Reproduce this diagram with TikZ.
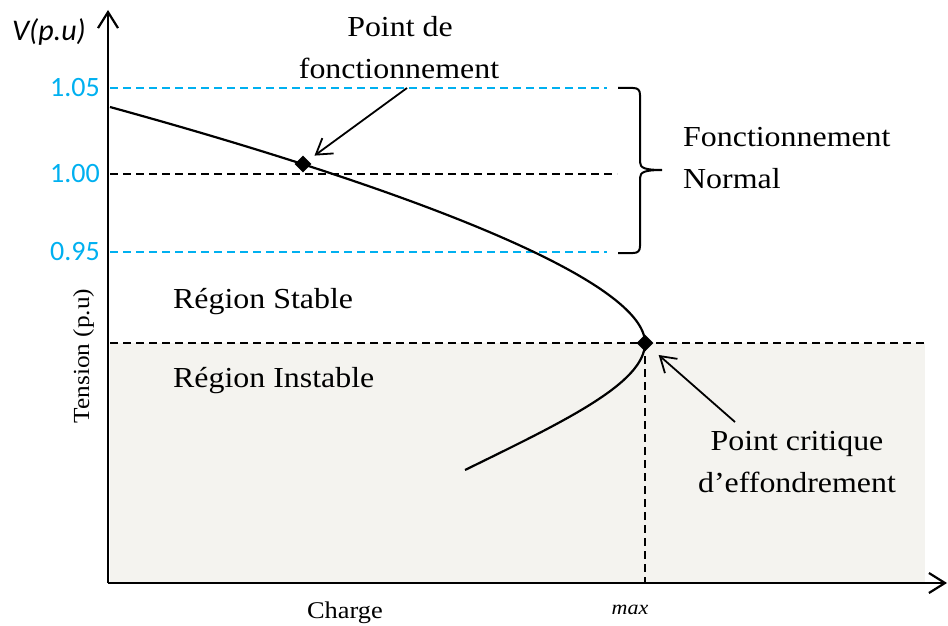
\documentclass[tikz,border=0pt]{standalone}
\usepackage{fontspec}
\setmainfont{Liberation Serif}[FakeStretch=1.1]
\newfontfamily\ticksans{Carlito}
\usetikzlibrary{arrows.meta,shapes.geometric}
\definecolor{tickblue}{RGB}{0,176,240}
\definecolor{unstablefill}{RGB}{244,243,239}

\begin{document}
\begin{tikzpicture}[x=1pt,y=-1pt,
  axis/.style={line width=2.2pt,-{Straight Barb[length=16pt,width=20pt,line width=2.2pt]}},
  curve/.style={line width=2.2pt},
  guide/.style={line width=1.9pt,dash pattern=on 8pt off 5pt},
  callout/.style={line width=1.8pt,-{Straight Barb[length=15pt,width=19pt,line width=1.8pt]}},
  marker/.style={diamond,fill=black,minimum size=17pt,inner sep=0pt},
  lbl/.style={inner sep=0pt,font=\fontsize{29}{35}\selectfont},
  ticklbl/.style={inner sep=0pt,text=tickblue,font=\ticksans\fontsize{28}{32}\selectfont},
]
\useasboundingbox (0,0) rectangle (948,626);

% unstable region
\fill[unstablefill] (110,343) rectangle (925,583);

% reference voltage levels
\draw[guide,tickblue] (110,88) -- (607,88);
\draw[guide] (110,174) -- (617,174);
\draw[guide,tickblue] (110,252) -- (607,252);

% stability limit
\draw[guide] (110,343) -- (928,343);
\draw[guide] (645,343) -- (645,583);

% axes
\coordinate (O) at (108,583);
\coordinate (xend) at (947,583);
\coordinate (yend) at (108,10);
\draw[axis] (O) -- (xend);
\draw[axis] (O) -- (yend);

% P-V curve
\draw[curve] (110,107) .. controls (430,195) and (645,283) .. (645,343)
  .. controls (645,383) and (565,421) .. (465,470);

% brace for the normal band
\draw[line width=2pt] (618,88) -- (633,88) .. controls (638,88) and (640,90) .. (640,95)
  -- (640,162) .. controls (640,168) and (645,170) .. (662,170)
  .. controls (645,170) and (640,172) .. (640,178)
  -- (640,246) .. controls (640,251) and (638,253) .. (633,253) -- (618,253);

% operating and critical points
\node[marker] (op) at (303,164) {};
\node[marker] (cp) at (645,343) {};

% axis labels
\node[inner sep=0pt,anchor=base west,font=\ticksans\itshape\fontsize{30}{34}\selectfont] (vlab) at (12,41) {V(p.u)};
\node[ticklbl,anchor=east] (t105) at (100,88) {1.05};
\node[ticklbl,anchor=east] (t100) at (100,174) {1.00};
\node[ticklbl,anchor=east] (t095) at (100,252) {0.95};
\node[inner sep=0pt,rotate=90,anchor=base,font=\fontsize{23}{27}\selectfont] (ylab) at (89,356) {Tension (p.u)};
\node[inner sep=0pt,anchor=base,font=\fontsize{24}{28}\selectfont] (xlab) at (345,618) {Charge};
\node[inner sep=0pt,anchor=base,font=\itshape\fontsize{20}{24}\selectfont] (xmax) at (630,614) {max};

% text labels
\node[lbl,anchor=base] (pd1) at (400,37) {Point de};
\node[lbl,anchor=base] (pd2) at (399,78) {fonctionnement};
\node[lbl,anchor=base west] (fn1) at (683,146) {Fonctionnement};
\node[lbl,anchor=base west] (fn2) at (683,188) {Normal};
\node[lbl,anchor=base west] (rs) at (173,308) {Région Stable};
\node[lbl,anchor=base west] (ri) at (173,387) {Région Instable};
\node[lbl,anchor=base] (pc1) at (797,450) {Point critique};
\node[lbl,anchor=base] (pc2) at (797,492) {d’effondrement};

% callout arrows
\coordinate (opsrc) at (407,88);
\coordinate (cpsrc) at (735,422);
\draw[callout,shorten >=8pt] (opsrc) -- (op);
\draw[callout,shorten >=12pt] (cpsrc) -- (cp);
\end{tikzpicture}
\end{document}
